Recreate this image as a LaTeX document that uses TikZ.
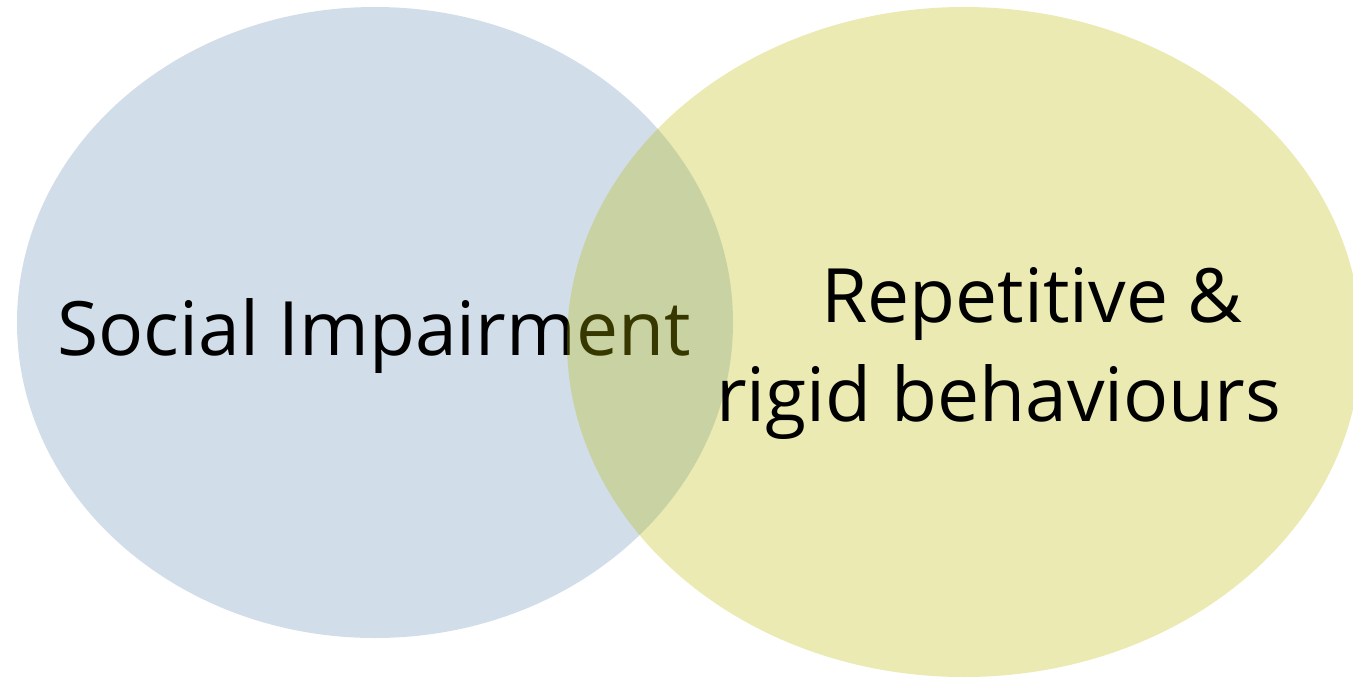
\documentclass[tikz,border=0pt]{standalone}
\usepackage{fontspec}
\setmainfont{Open Sans}
\definecolor{setblue}{RGB}{209,222,234}
\definecolor{setyellow}{RGB}{185,185,0}
\begin{document}
\begin{tikzpicture}[x=1pt,y=-1pt,
  lbl/.style={inner sep=0pt,anchor=base west,font=\fontsize{75}{94}\selectfont,text=black}]
\useasboundingbox (0,0) rectangle (1353,678);
\fill[setblue] (375,322.5) ellipse [x radius=358,y radius=315.5];
\node[lbl] (social) at (57,355) {Social Impairment};
\fill[setyellow,fill opacity=0.3] (964,342) ellipse [x radius=397,y radius=335];
\node[lbl] (rep) at (821,322) {Repetitive \&};
\node[lbl] (rigid) at (716,421) {rigid behaviours};
\end{tikzpicture}
\end{document}
